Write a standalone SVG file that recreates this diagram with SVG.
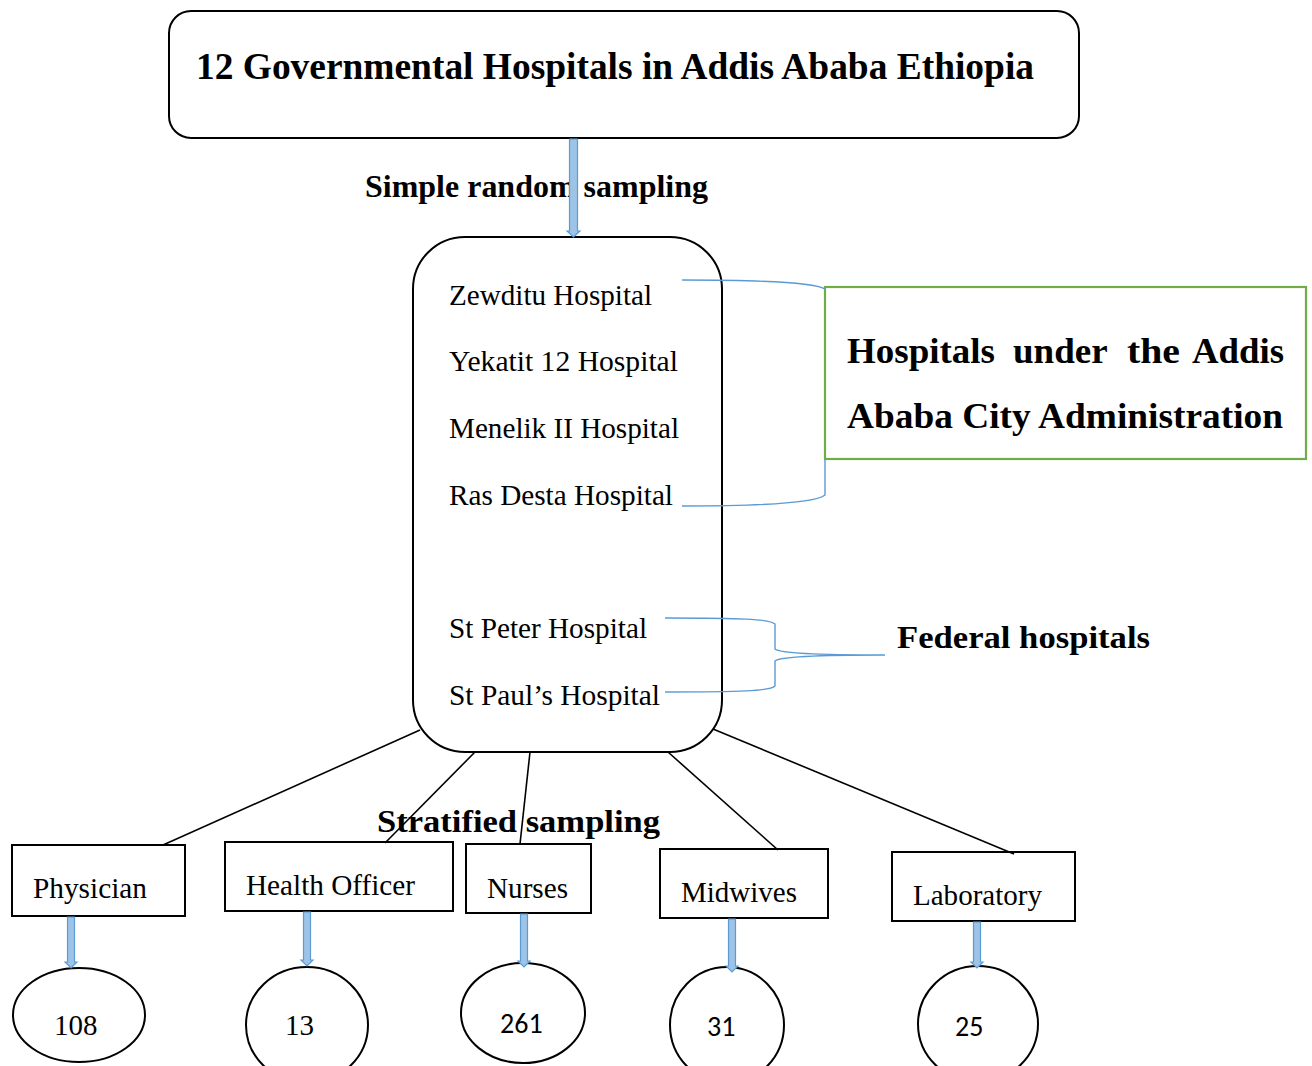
<svg xmlns="http://www.w3.org/2000/svg" width="1312" height="1066" viewBox="0 0 1312 1066">
<defs>
<style>
.box{fill:#fff;stroke:#000;stroke-width:2}
.ln{fill:none;stroke:#000;stroke-width:1.6}
.br{fill:none;stroke:#5b9bd5;stroke-width:1.4}
.arr{fill:#9dc3e6;stroke:#5b9bd5;stroke-width:1.2}
.bt{font-family:"Liberation Serif","Times New Roman",serif;font-weight:bold;fill:#000}
.t{font-family:"Liberation Serif","Times New Roman",serif;font-size:29px;fill:#000}
.s{font-family:Carlito,"Liberation Sans",Arial,sans-serif;font-size:28px;fill:#000}
</style>
</defs>
<g id="top">
<rect class="box" x="169" y="11" width="910" height="127" rx="22"/>
<text class="bt" x="196" y="79" font-size="37" textLength="838" lengthAdjust="spacingAndGlyphs">12 Governmental Hospitals in Addis Ababa Ethiopia</text>
</g>
<g id="label-srs">
<text class="bt" x="365" y="197" font-size="31" textLength="343" lengthAdjust="spacingAndGlyphs">Simple random sampling</text>
</g>
<g id="hospitals">
<rect class="box" x="413" y="237" width="309" height="515" rx="52"/>
<text class="t" x="449" y="305" textLength="203" lengthAdjust="spacingAndGlyphs">Zewditu Hospital</text>
<text class="t" x="449" y="371" textLength="229" lengthAdjust="spacingAndGlyphs">Yekatit 12 Hospital</text>
<text class="t" x="449" y="438" textLength="230" lengthAdjust="spacingAndGlyphs">Menelik II Hospital</text>
<text class="t" x="449" y="505" textLength="224" lengthAdjust="spacingAndGlyphs">Ras Desta Hospital</text>
<text class="t" x="449" y="638" textLength="198" lengthAdjust="spacingAndGlyphs">St Peter Hospital</text>
<text class="t" x="449" y="705" textLength="211" lengthAdjust="spacingAndGlyphs">St Paul’s Hospital</text>
</g>
<g id="city">
<rect x="825" y="287" width="481" height="172" fill="#fff" stroke="#70ad47" stroke-width="2.2"/>
<text class="bt" y="363" font-size="36"><tspan x="847" textLength="148" lengthAdjust="spacingAndGlyphs">Hospitals</tspan> <tspan x="1013" textLength="94" lengthAdjust="spacingAndGlyphs">under</tspan> <tspan x="1127" textLength="53" lengthAdjust="spacingAndGlyphs">the</tspan> <tspan x="1192" textLength="92" lengthAdjust="spacingAndGlyphs">Addis</tspan></text>
<text class="bt" x="847" y="428" font-size="36" textLength="436" lengthAdjust="spacingAndGlyphs">Ababa City Administration</text>
</g>
<g id="federal">
<text class="bt" x="897" y="648" font-size="32" textLength="253" lengthAdjust="spacingAndGlyphs">Federal hospitals</text>
</g>
<g id="label-strat">
<text class="bt" x="377" y="832" font-size="32" textLength="283" lengthAdjust="spacingAndGlyphs">Stratified sampling</text>
</g>
<g id="physician">
<rect class="box" x="12" y="845" width="173" height="71"/>
<text class="t" x="33" y="898" textLength="114" lengthAdjust="spacingAndGlyphs">Physician</text>
</g>
<g id="health-officer">
<rect class="box" x="225" y="842" width="228" height="69"/>
<text class="t" x="246" y="895" textLength="169" lengthAdjust="spacingAndGlyphs">Health Officer</text>
</g>
<g id="nurses">
<rect class="box" x="466" y="844" width="125" height="69"/>
<text class="t" x="487" y="898" textLength="81" lengthAdjust="spacingAndGlyphs">Nurses</text>
</g>
<g id="midwives">
<rect class="box" x="660" y="849" width="168" height="69"/>
<text class="t" x="681" y="902" textLength="116" lengthAdjust="spacingAndGlyphs">Midwives</text>
</g>
<g id="laboratory">
<rect class="box" x="892" y="852" width="183" height="69"/>
<text class="t" x="913" y="905" textLength="129" lengthAdjust="spacingAndGlyphs">Laboratory</text>
</g>
<g id="n108">
<ellipse class="box" cx="79" cy="1015" rx="66" ry="47"/>
<text class="t" x="54" y="1035" font-size="28">108</text>
</g>
<g id="n13">
<ellipse class="box" cx="307" cy="1025" rx="61" ry="58"/>
<text class="t" x="285" y="1035" font-size="28">13</text>
</g>
<g id="n261">
<ellipse class="box" cx="523" cy="1013" rx="62" ry="50"/>
<text class="s" x="500" y="1033">261</text>
</g>
<g id="n31">
<ellipse class="box" cx="727" cy="1025" rx="57" ry="58"/>
<text class="s" x="707" y="1036">31</text>
</g>
<g id="n25">
<ellipse class="box" cx="978" cy="1024" rx="60" ry="58"/>
<text class="s" x="955" y="1036">25</text>
</g>
<g id="connectors">
<polygon class="arr" points="569.5,139 577.5,139 577.5,231 580,231 573.5,237 567,231 569.5,231"/>
<line class="ln" x1="420" y1="730" x2="163" y2="845"/>
<line class="ln" x1="475" y1="752" x2="385" y2="843"/>
<line class="ln" x1="530" y1="752" x2="520" y2="844"/>
<line class="ln" x1="668" y1="752" x2="778" y2="850"/>
<line class="ln" x1="713" y1="729" x2="1014" y2="854"/>
<path class="br" d="M682,280 C760,280 815,283 825,289"/>
<path class="br" d="M825,460 L825,495 C815,503 760,506 682,506"/>
<path class="br" d="M665,618 C740,618 770,619 775,624 L775,649 C780,654 840,655 885,655 C840,655 780,656 775,661 L775,686 C770,691 740,692 665,692"/>
<polygon class="arr" points="67.5,917 74.5,917 74.5,962 77,962 71,968 65,962 67.5,962"/>
<polygon class="arr" points="303.5,912 310.5,912 310.5,960 313,960 307,966 301,960 303.5,960"/>
<polygon class="arr" points="520.5,914 527.5,914 527.5,961 530,961 524,967 518,961 520.5,961"/>
<polygon class="arr" points="728.5,919 735.5,919 735.5,966 738,966 732,972 726,966 728.5,966"/>
<polygon class="arr" points="973.5,922 980.5,922 980.5,962 983,962 977,968 971,962 973.5,962"/>
</g>
</svg>
